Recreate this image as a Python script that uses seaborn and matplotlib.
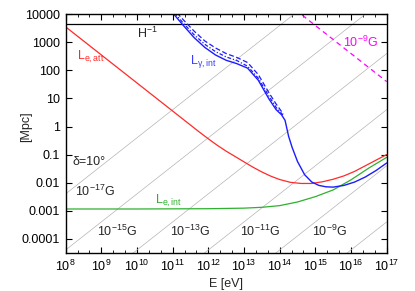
import numpy as np
import pandas as pd
import matplotlib.pyplot as plt
import matplotlib.ticker as mticker
import seaborn as sns

# values, as log10(E/eV) and log10(L/Mpc)
e_att_logE = [8.0, 9.0, 10.0, 11.0, 11.5, 11.75, 12.0, 12.25, 12.5, 12.75, 13.0, 13.25, 13.5, 13.75, 14.0,
              14.3, 14.6, 14.9, 15.2, 15.5, 15.8, 16.1, 16.4, 16.7, 17.0]
e_att_logL = [3.55, 2.55, 1.55, 0.55, 0.05, -0.2, -0.44, -0.67, -0.88, -1.07, -1.26, -1.45, -1.62, -1.77, -1.89,
              -1.99, -2.03, -2.03, -1.97, -1.88, -1.76, -1.6, -1.4, -1.2, -1.0]

e_int_logE = [8.0, 10.0, 12.0, 13.0, 13.5, 14.0, 14.5, 15.0, 15.5, 16.0, 16.5, 17.0]
e_int_logL = [-2.94, -2.94, -2.93, -2.91, -2.88, -2.82, -2.69, -2.5, -2.26, -1.9, -1.48, -1.1]

g_int_logE = [11.0, 11.3, 11.6, 11.9, 12.2, 12.5, 12.8, 13.1, 13.4, 13.7, 13.9, 14.05, 14.15, 14.25,
              14.35, 14.5, 14.7, 14.9, 15.1, 15.3, 15.5, 15.8, 16.1, 16.4, 16.7, 17.0]
g_int_logL = [4.05, 3.6, 3.17, 2.82, 2.55, 2.36, 2.24, 2.08, 1.65, 0.98, 0.6, 0.42, 0.22, -0.35,
              -0.75, -1.25, -1.72, -1.98, -2.1, -2.15, -2.16, -2.1, -1.98, -1.8, -1.57, -1.3]

g_dd_logE = [11.05, 11.3, 11.6, 11.9, 12.2, 12.5, 12.8, 13.1, 13.4, 13.7, 13.9, 14.1]
g_dd_logL = [4.05, 3.68, 3.27, 2.93, 2.67, 2.48, 2.35, 2.15, 1.72, 1.08, 0.68, 0.4]

g_da_logE = [11.12, 11.3, 11.6, 11.9, 12.2, 12.5, 12.8, 13.1, 13.4, 13.7, 13.9, 14.1]
g_da_logL = [4.05, 3.8, 3.4, 3.05, 2.8, 2.6, 2.46, 2.28, 1.85, 1.2, 0.8, 0.45]

hubble_L = 4400.0

# deflection lines (delta = 10 deg), one per field, L at E=1e8 and E=1e17
field_logE = [8.0, 17.0]
field_logL_start = [-2.4, -4.4, -6.4, -8.4, -10.4, -12.4]
field_logL_end = [6.6, 4.6, 2.6, 0.6, -1.4, -3.4]
field_labels = ['10$^{-17}$G', '10$^{-15}$G', '10$^{-13}$G', '10$^{-11}$G', '10$^{-9}$G']
field_label_logE = [8.26, 8.88, 10.93, 12.89, 14.91]
field_label_logL = [-2.32, -3.75, -3.75, -3.75, -3.75]

magenta_logE = [14.0, 17.0]
magenta_logL = [4.6, 1.6]

xtick_labels = ['10$^{%d}$' % k for k in range(8, 18)]
ytick_labels = ['0.0001', '0.001', '0.01', '0.1', '1', '10', '100', '1000', '10000']

sns.set_style('ticks')
plt.rcParams['font.family'] = ['Liberation Sans', 'DejaVu Sans']
plt.rcParams['mathtext.fontset'] = 'custom'
plt.rcParams['mathtext.rm'] = 'Liberation Sans'
plt.rcParams['mathtext.it'] = 'Liberation Sans:italic'
plt.rcParams['mathtext.bf'] = 'Liberation Sans:bold'

fig = plt.figure(figsize=(4.15, 2.91), dpi=100)
ax = fig.add_axes([0.1583, 0.1306, 0.7735, 0.8203])
ax.set_xscale('log')
ax.set_yscale('log')

p = lambda v: 10.0 ** np.asarray(v)

for s, e in zip(field_logL_start, field_logL_end):
    sns.lineplot(x=p(field_logE), y=p([s, e]), ax=ax, color='#b4b4b4', lw=0.5, sort=False)

ax.axhline(hubble_L, color='black', lw=0.9)

sns.lineplot(x=p(magenta_logE), y=p(magenta_logL), ax=ax, color='#ff00ff', lw=0.9,
             linestyle=(0, (4, 3)), sort=False)
sns.lineplot(x=p(e_att_logE), y=p(e_att_logL), ax=ax, color='#ff2a2a', lw=0.9, sort=False)
sns.lineplot(x=p(e_int_logE), y=p(e_int_logL), ax=ax, color='#2fb02f', lw=0.9, sort=False)
sns.lineplot(x=p(g_da_logE), y=p(g_da_logL), ax=ax, color='#1c1cff', lw=0.9,
             linestyle=(0, (4, 2)), sort=False)
sns.lineplot(x=p(g_dd_logE), y=p(g_dd_logL), ax=ax, color='#1c1cff', lw=0.9,
             linestyle=(0, (3, 1.5, 1, 1.5)), sort=False)
sns.lineplot(x=p(g_int_logE), y=p(g_int_logL), ax=ax, color='#1c1cff', lw=1.0, sort=False)

ax.set_xlim(1e8, 1e17)
ax.set_ylim(3.1e-5, 1e4)

ax.xaxis.set_major_locator(mticker.FixedLocator(p(range(8, 18))))
ax.xaxis.set_major_formatter(mticker.FixedFormatter(xtick_labels))
ax.xaxis.set_minor_locator(mticker.FixedLocator(
    [10.0 ** (k + j / 3.0) for k in range(8, 17) for j in (1, 2)]))
ax.xaxis.set_minor_formatter(mticker.NullFormatter())
ax.yaxis.set_major_locator(mticker.FixedLocator(p(range(-4, 5))))
ax.yaxis.set_major_formatter(mticker.FixedFormatter(ytick_labels))
ax.yaxis.set_minor_locator(mticker.NullLocator())

ax.tick_params(which='both', direction='in', top=True, right=True, labelsize=9, colors='black')
ax.tick_params(which='major', length=4, width=0.8, pad=4)
ax.tick_params(which='minor', length=2, width=0.6)
for sp in ax.spines.values():
    sp.set_linewidth(1.0)
    sp.set_color('black')

ax.set_xlabel('E [eV]', fontsize=9, labelpad=3)
ax.set_ylabel('[Mpc]', fontsize=9)
ax.yaxis.set_label_coords(-0.105, 0.53)

ax.text(p(10.0), p(3.32), 'H$^{-1}$', fontsize=9, ha='left', va='center')
ax.text(p(8.32), p(2.48), 'L$_{\\mathrm{e,att}}$', fontsize=9, color='#ff2a2a', ha='left', va='center')
ax.text(p(11.49), p(2.30), 'L$_{\\mathrm{\u03b3,int}}$', fontsize=9, color='#3c3cff', ha='left', va='center')
ax.text(p(10.5), p(-2.64), 'L$_{\\mathrm{e,int}}$', fontsize=9, color='#2fb02f', ha='left', va='center')
ax.text(p(15.78), p(3.01), '10$^{-9}$G', fontsize=9, color='#ff00ff', ha='left', va='center')
ax.text(p(8.2), p(-1.26), '\u03b4=10\u00b0', fontsize=9, ha='left', va='center')
for lab, lx, ly in zip(field_labels, field_label_logE, field_label_logL):
    ax.text(p(lx), p(ly), lab, fontsize=9, ha='left', va='center')

fig.savefig('out.png', dpi=100)
